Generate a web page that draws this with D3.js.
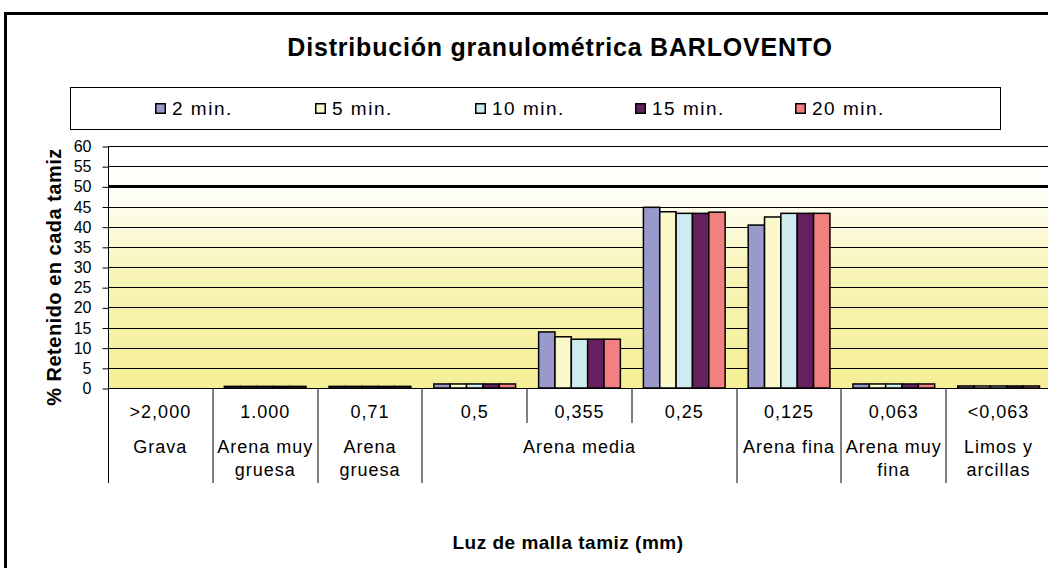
<!DOCTYPE html>
<html>
<head>
<meta charset="utf-8">
<script src="https://cdn.jsdelivr.net/npm/d3@7"></script>
<style>
  html, body { margin: 0; padding: 0; background: #fff; }
  svg { display: block; }
  text { font-family: "Liberation Sans", Arial, sans-serif; fill: #000; }
</style>
</head>
<body>
<svg id="chart" width="1048" height="568"></svg>
<script>
// sieve openings (first axis level) and soil fraction (second level)
var sieves = ['>2,000', '1.000', '0,71', '0,5', '0,355', '0,25', '0,125', '0,063', '<0,063'];
var fractions = ['Grava', 'Arena muy gruesa', 'Arena gruesa', 'Arena media', 'Arena media', 'Arena media', 'Arena fina', 'Arena muy fina', 'Limos y arcillas'];
var series = ['2 min.', '5 min.', '10 min.', '15 min.', '20 min.'];
var colors = ['#9999cc', '#fbf9cc', '#cdecf0', '#662060', '#f28080'];

// % retained per sieve, one array per time
var v2min  = [0, 0.4, 0.4, 1.0, 13.9, 44.8, 40.4, 1.0, 0.5];
var v5min  = [0, 0.4, 0.4, 1.0, 12.7, 43.7, 42.4, 1.0, 0.5];
var v10min = [0, 0.4, 0.4, 1.0, 12.1, 43.3, 43.3, 1.0, 0.5];
var v15min = [0, 0.4, 0.4, 1.0, 12.1, 43.3, 43.3, 1.0, 0.5];
var v20min = [0, 0.4, 0.4, 1.0, 12.1, 43.6, 43.3, 1.0, 0.5];
var values = [v2min, v5min, v10min, v15min, v20min];

var yTicks = d3.range(0, 61, 5);

var svg = d3.select('#chart');
var plot = { left: 108, right: 1051, top: 146, bottom: 388 };

// outer frame (right/bottom run off the picture)
svg.append('rect')
  .attr('x', 5.5).attr('y', 13.5)
  .attr('width', 1200).attr('height', 700)
  .attr('fill', '#fff').attr('stroke', '#000').attr('stroke-width', 3);

var x0 = d3.scaleBand().domain(sieves).range([plot.left, plot.right]);
var x1 = d3.scaleBand().domain(series)
  .range([x0.bandwidth() * 0.11, x0.bandwidth() * 0.89]);
var y = d3.scaleLinear().domain([0, 60]).range([plot.bottom, plot.top]);

// plot background gradient
var grad = svg.append('defs').append('linearGradient')
  .attr('id', 'bg').attr('x1', 0).attr('y1', 0).attr('x2', 0).attr('y2', 1);
grad.append('stop').attr('offset', '0%').attr('stop-color', '#ffffff');
grad.append('stop').attr('offset', '18%').attr('stop-color', '#fffefa');
grad.append('stop').attr('offset', '52%').attr('stop-color', '#f8f4b8');
grad.append('stop').attr('offset', '100%').attr('stop-color', '#f5ef96');
svg.append('rect')
  .attr('x', plot.left).attr('y', plot.top)
  .attr('width', plot.right - plot.left).attr('height', plot.bottom - plot.top)
  .attr('fill', 'url(#bg)');

// gridlines
svg.append('g').selectAll('line')
  .data(yTicks.filter(function (d) { return d > 0; }))
  .join('line')
  .attr('x1', plot.left).attr('x2', plot.right)
  .attr('y1', function (d) { return Math.round(y(d)) + 0.5; })
  .attr('y2', function (d) { return Math.round(y(d)) + 0.5; })
  .attr('stroke', '#000')
  .attr('stroke-width', function (d) { return d === 50 ? 3 : 1; });

// y axis
var yAxis = svg.append('g')
  .attr('transform', 'translate(' + (plot.left + 0.5) + ',0.5)')
  .call(d3.axisLeft(y).tickValues(yTicks).tickSize(6).tickPadding(11));
yAxis.select('.domain').remove();
yAxis.selectAll('.tick line').attr('stroke', '#000');
yAxis.selectAll('.tick text')
  .attr('font-size', 16)
  .attr('font-family', '"Liberation Sans", Arial, sans-serif')
  .attr('fill', '#000');

// bars
var groups = svg.append('g').selectAll('g')
  .data(sieves)
  .join('g')
  .attr('transform', function (d) { return 'translate(' + x0(d) + ',0)'; });
groups.selectAll('rect')
  .data(function (d, i) {
    return series.map(function (s, k) { return { s: s, k: k, v: values[k][i] }; });
  })
  .join('rect')
  .filter(function (d) { return d.v > 0; })
  .attr('x', function (d) { return x1(d.s); })
  .attr('width', x1.bandwidth())
  .attr('y', function (d) { return y(d.v); })
  .attr('height', function (d) { return y(0) - y(d.v); })
  .attr('fill', function (d) { return colors[d.k]; })
  .attr('stroke', '#000')
  .attr('stroke-width', 1.5);

// axis lines: y axis runs down through the label area
svg.append('line')
  .attr('x1', plot.left + 0.5).attr('x2', plot.left + 0.5)
  .attr('y1', plot.top).attr('y2', 483)
  .attr('stroke', '#000');
svg.append('line')
  .attr('x1', plot.left).attr('x2', plot.right)
  .attr('y1', plot.bottom + 0.5).attr('y2', plot.bottom + 0.5)
  .attr('stroke', '#000');

// category dividers: long between fractions, short inside one
var dividers = [];
for (var i = 1; i < sieves.length; i++) {
  dividers.push({ x: x0(sieves[i]), long: fractions[i] !== fractions[i - 1] });
}
svg.append('g').selectAll('line')
  .data(dividers)
  .join('line')
  .attr('x1', function (d) { return Math.round(d.x); })
  .attr('x2', function (d) { return Math.round(d.x); })
  .attr('y1', plot.bottom + 1)
  .attr('y2', function (d) { return d.long ? 483 : 423; })
  .attr('stroke', function (d) { return d.long ? '#808080' : '#000'; })
  .attr('stroke-width', function (d) { return d.long ? 2 : 1; });

// sieve labels
svg.append('g').selectAll('text')
  .data(sieves)
  .join('text')
  .attr('x', function (d) { return x0(d) + x0.bandwidth() / 2; })
  .attr('y', 418)
  .attr('text-anchor', 'middle')
  .attr('font-size', 18)
  .attr('letter-spacing', 1)
  .text(function (d) { return d; });

// fraction labels, merged over consecutive sieves and wrapped
var spans = [];
fractions.forEach(function (f, i) {
  var last = spans[spans.length - 1];
  if (last && last.name === f) last.end = i;
  else spans.push({ name: f, start: i, end: i });
});
spans.forEach(function (s) {
  var xa = x0(sieves[s.start]);
  var xb = x0(sieves[s.end]) + x0.bandwidth();
  var t = svg.append('text')
    .attr('text-anchor', 'middle')
    .attr('font-size', 18)
    .attr('letter-spacing', 1);
  var words = s.name.split(' ');
  var lines = [];
  var line = [];
  var probe = svg.append('text').attr('font-size', 18).attr('letter-spacing', 1);
  words.forEach(function (w) {
    var test = line.concat([w]).join(' ');
    probe.text(test);
    if (line.length && probe.node().getComputedTextLength() > (xb - xa) - 6) {
      lines.push(line.join(' '));
      line = [w];
    } else {
      line.push(w);
    }
  });
  lines.push(line.join(' '));
  probe.remove();
  lines.forEach(function (l, k) {
    t.append('tspan')
      .attr('x', (xa + xb) / 2)
      .attr('y', 453 + k * 23)
      .text(l);
  });
});

// title
svg.append('text')
  .attr('x', 560).attr('y', 56)
  .attr('text-anchor', 'middle')
  .attr('font-size', 25).attr('font-weight', 'bold')
  .attr('letter-spacing', 0.8)
  .text('Distribución granulométrica BARLOVENTO');

// axis titles
svg.append('text')
  .attr('transform', 'translate(61,277) rotate(-90)')
  .attr('text-anchor', 'middle')
  .attr('font-size', 20).attr('font-weight', 'bold')
  .attr('letter-spacing', 0.5)
  .text('% Retenido en cada tamiz');
svg.append('text')
  .attr('x', 568).attr('y', 549)
  .attr('text-anchor', 'middle')
  .attr('font-size', 19).attr('font-weight', 'bold')
  .attr('letter-spacing', 0.5)
  .text('Luz de malla tamiz (mm)');

// legend
svg.append('rect')
  .attr('x', 70.5).attr('y', 87.5)
  .attr('width', 930).attr('height', 42)
  .attr('fill', '#fff').attr('stroke', '#000');
var lx = d3.scaleLinear().domain([0, series.length - 1]).range([155, 795]);
var items = svg.append('g').selectAll('g')
  .data(series)
  .join('g')
  .attr('transform', function (d, i) { return 'translate(' + lx(i) + ',103)'; });
items.append('rect')
  .attr('x', 0.75).attr('y', 0.75)
  .attr('width', 9.5).attr('height', 9.5)
  .attr('fill', function (d, i) { return colors[i]; })
  .attr('stroke', '#000').attr('stroke-width', 1.5);
items.append('text')
  .attr('x', 17).attr('y', 12)
  .attr('font-size', 19)
  .attr('letter-spacing', 1.5)
  .text(function (d) { return d; });
</script>
</body>
</html>
